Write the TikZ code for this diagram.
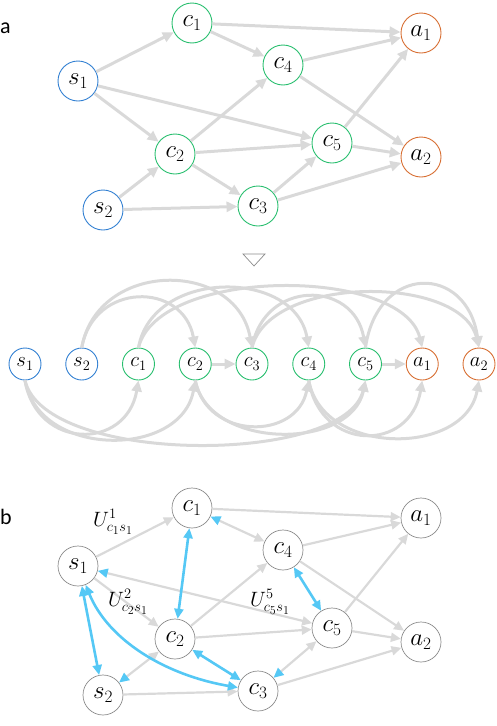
\documentclass[tikz,border=0pt]{standalone}
\usepackage{fontspec}
\newfontfamily\labfont{Carlito}
\DeclareMathSizes{20}{20}{14}{11.5}
\usetikzlibrary{arrows.meta}
\definecolor{lg}{RGB}{217,217,217}
\definecolor{sblue}{RGB}{50,128,210}
\definecolor{cgreen}{RGB}{40,190,110}
\definecolor{aorange}{RGB}{215,110,50}
\definecolor{bblue}{RGB}{85,200,245}
\definecolor{bgray}{RGB}{140,140,140}
\begin{document}
\begin{tikzpicture}[x=1pt,y=-1pt,
  nd/.style={circle,draw,line width=0.9pt,minimum size=40pt,inner sep=0pt,font=\fontsize{25}{25}\selectfont},
  snd/.style={nd,draw=sblue}, cnd/.style={nd,draw=cgreen}, anode/.style={nd,draw=aorange},
  mnd/.style={circle,draw,line width=0.9pt,minimum size=32pt,inner sep=0pt,font=\fontsize{21}{21}\selectfont},
  msnd/.style={mnd,draw=sblue}, mcnd/.style={mnd,draw=cgreen}, manode/.style={mnd,draw=aorange},
  bnd/.style={nd,draw=bgray,line width=0.7pt},
  edge/.style={draw=lg,line width=3pt,-{Triangle[length=11pt,width=10pt]}},
  bedge/.style={draw=lg,line width=2.2pt,-{Triangle[length=10pt,width=9pt]}},
  mixedge/.style={draw=lg,line width=2.2pt,{Triangle[length=10pt,width=9pt,color=bblue]}-{Triangle[length=10pt,width=9pt]}},
  blueedge/.style={draw=bblue,line width=2.6pt,{Triangle[length=10pt,width=9pt]}-{Triangle[length=10pt,width=9pt]}},
  lab/.style={font=\fontsize{20}{20}\selectfont,inner sep=0pt},
  letter/.style={font=\labfont\fontsize{22}{22}\selectfont,anchor=west,inner sep=0pt}
]
\useasboundingbox (0,0) rectangle (497,726);

% ---------- panel a ----------
\node[letter] (la) at (0,28) {a};
\node[snd] (as1) at (78,81) {$s_1$};
\node[snd] (as2) at (103,210) {$s_2$};
\node[cnd] (ac1) at (192,23) {$c_1$};
\node[cnd] (ac2) at (175,154) {$c_2$};
\node[cnd] (ac3) at (258,206) {$c_3$};
\node[cnd] (ac4) at (283,65) {$c_4$};
\node[cnd] (ac5) at (332,143) {$c_5$};
\node[anode] (aa1) at (421,33) {$a_1$};
\node[anode] (aa2) at (421,157) {$a_2$};
\foreach \u/\v in {as1/ac1,as1/ac2,as1/ac5,as2/ac2,as2/ac3,ac1/aa1,ac1/ac4,ac2/ac4,ac2/ac5,ac2/ac3,ac3/ac5,ac3/aa2,ac4/aa1,ac4/aa2,ac5/aa1,ac5/aa2}
  \draw[edge] (\u) -- (\v);

% ---------- triangle ----------
\draw[bgray,line width=0.7pt] (243,254) -- (265,254) -- (254,266) -- cycle;

% ---------- middle row ----------
\node[msnd] (ms1) at (25,364) {$s_1$};
\node[msnd] (ms2) at (81.75,364) {$s_2$};
\node[mcnd] (mc1) at (138.5,364) {$c_1$};
\node[mcnd] (mc2) at (195.25,364) {$c_2$};
\node[mcnd] (mc3) at (252,364) {$c_3$};
\node[mcnd] (mc4) at (308.75,364) {$c_4$};
\node[mcnd] (mc5) at (365.5,364) {$c_5$};
\node[manode] (ma1) at (422.25,364) {$a_1$};
\node[manode] (ma2) at (479,364) {$a_2$};
\draw[edge] (mc2) -- (mc3);
\draw[edge] (mc5) -- (ma1);
% top arcs
\draw[edge] (ms2.north) .. controls +(12,-66) and +(-12,-66) .. (mc2.north);
\draw[edge] (ms2.north) .. controls +(16,-88) and +(-16,-88) .. (mc3.north);
\draw[edge] (mc1.north) .. controls +(14,-79) and +(-14,-79) .. (mc4.north);
\draw[edge] (mc1.north) .. controls +(20,-81) and +(-20,-81) .. (ma1.north);
\draw[edge] (mc3.north) .. controls +(12,-68) and +(-12,-68) .. (mc5.north);
\draw[edge] (mc3.north) .. controls +(18,-73) and +(-18,-73) .. (ma2.north);
\draw[edge] (mc5.north) .. controls +(12,-84) and +(-12,-84) .. (ma2.north);
% bottom arcs
\draw[edge] (ms1.south) .. controls +(12,70) and +(-12,70) .. (mc1.south);
\draw[edge] (ms1.south) .. controls +(14,78) and +(-14,78) .. (mc2.south);
\draw[edge] (ms1.south) .. controls +(20,85) and +(-20,85) .. (mc5.south);
\draw[edge] (mc2.south) .. controls +(12,60) and +(-12,60) .. (mc4.south);
\draw[edge] (mc2.south) .. controls +(14,70) and +(-14,70) .. (mc5.south);
\draw[edge] (mc4.south) .. controls +(12,72) and +(-12,72) .. (ma1.south);
\draw[edge] (mc4.south) .. controls +(14,76) and +(-14,76) .. (ma2.south);

% ---------- panel b ----------
\node[letter] (lb) at (0,517) {b};
\node[bnd] (bs1) at (78,566) {$s_1$};
\node[bnd] (bs2) at (103,695) {$s_2$};
\node[bnd] (bc1) at (192,508) {$c_1$};
\node[bnd] (bc2) at (175,639) {$c_2$};
\node[bnd] (bc3) at (258,691) {$c_3$};
\node[bnd] (bc4) at (283,550) {$c_4$};
\node[bnd] (bc5) at (332,628) {$c_5$};
\node[bnd] (ba1) at (421,518) {$a_1$};
\node[bnd] (ba2) at (421,642) {$a_2$};
\foreach \u/\v in {bs1/bc1,bs1/bc2,bs2/bc3,bc1/ba1,bc2/bc4,bc2/bc5,bc3/ba2,bc4/ba1,bc4/ba2,bc5/ba1,bc5/ba2}
  \draw[bedge] (\u) -- (\v);
\foreach \u/\v in {bc1/bc4,bs1/bc5,bs2/bc2,bc3/bc5}
  \draw[mixedge] (\u) -- (\v);
\draw[blueedge] (bc1) -- (bc2);
\draw[blueedge] (bs1) -- (bs2);
\draw[blueedge] (bc2) -- (bc3);
\draw[blueedge] (bc4) -- (bc5);
\draw[blueedge] (bs1) .. controls (108,640) and (165,675) .. (bc3);
\node[lab] (u1) at (113,522) {$U^1_{c_1s_1}$};
\node[lab] (u2) at (128,602) {$U^2_{c_2s_1}$};
\node[lab] (u5) at (270,602) {$U^5_{c_5s_1}$};
\end{tikzpicture}
\end{document}
